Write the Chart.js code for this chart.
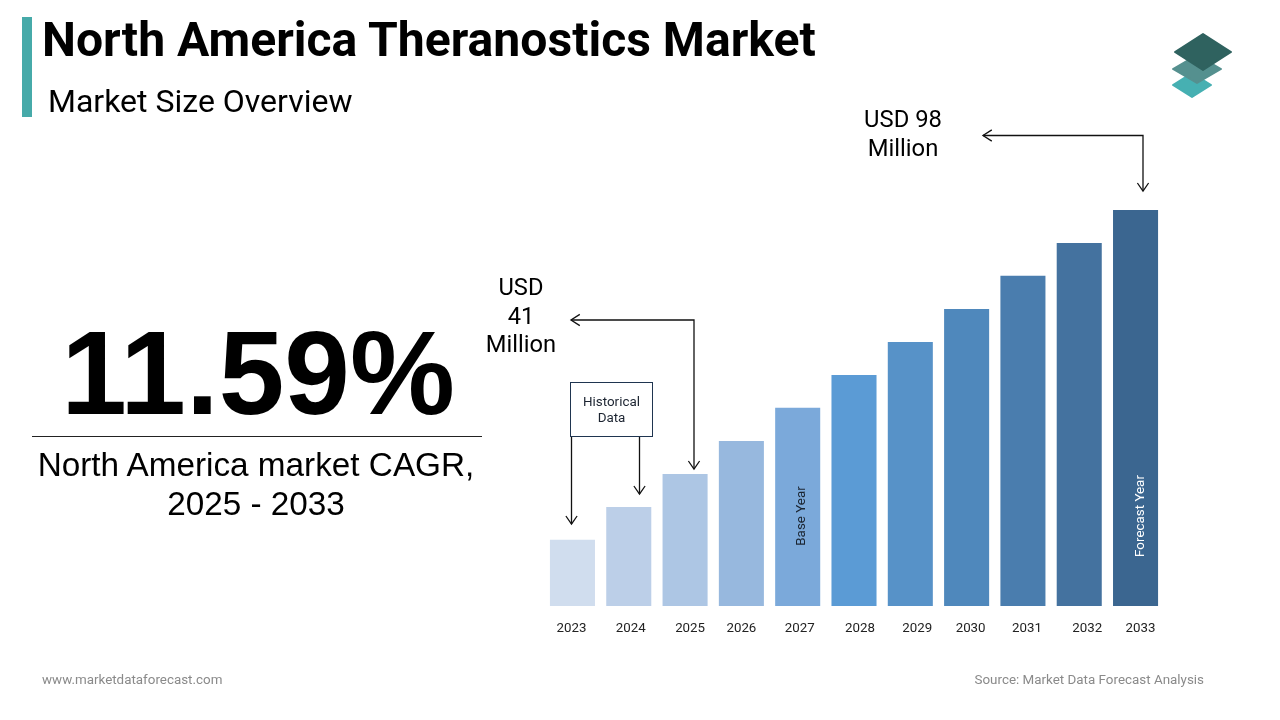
<!DOCTYPE html>
<html>
<head>
<meta charset="utf-8">
<title>North America Theranostics Market</title>
<script src="https://cdn.jsdelivr.net/npm/chart.js@4"></script>
<style>
  html, body { margin: 0; padding: 0; background: #fff; }
  #page { position: relative; width: 1280px; height: 720px; overflow: hidden; font-family: Roboto, sans-serif; color: #000; }
  #page canvas { position: absolute; left: 0; top: 0; }
  .t { position: absolute; white-space: nowrap; }
  .c { text-align: center; }
  #bar { position: absolute; left: 22px; top: 17px; width: 10px; height: 100px; background: #46aaa9; }
  #title { left: 42px; top: 12px; font-size: 48.1px; line-height: 56px; font-weight: 700; }
  #subtitle { left: 48px; top: 81px; font-size: 32px; line-height: 40px; }
  #cagr { left: 33px; width: 450px; top: 311px; font: 700 118px/124px "Liberation Sans", Arial, sans-serif; }
  #rule { position: absolute; left: 32px; top: 436px; width: 450px; height: 1px; background: #222; }
  #cagrText { left: 31px; width: 450px; top: 445px; font: 33.3px/39px "Liberation Sans", Arial, sans-serif; }
  #usd41 { left: 471px; width: 100px; top: 273px; font-size: 23.7px; line-height: 28.5px; }
  #usd98 { left: 853px; width: 100px; top: 104.5px; font-size: 23.8px; line-height: 29.5px; }
  #hist { position: absolute; left: 570px; top: 382px; width: 81px; height: 53px; border: 1px solid #1f3550; font-size: 13.4px; line-height: 16px; text-align: center; color: #1b2330; }
  #hist span { display: block; margin-top: 11px; }
  .foot { top: 672px; font-size: 13.4px; line-height: 16px; color: #8a8a8a; }
  #logo { position: absolute; left: 1165px; top: 28px; }
</style>
</head>
<body>
<div id="page">
  <canvas id="chart" width="1280" height="720"></canvas>
  <div id="bar"></div>
  <div class="t" id="title">North America Theranostics Market</div>
  <div class="t" id="subtitle">Market Size Overview</div>
  <svg id="logo" width="76" height="76" viewBox="0 0 76 76">
    <path d="M27 45 L46 57 L27 69 L8 57 Z" fill="#46b0b2" stroke="#46b0b2" stroke-linejoin="round" stroke-width="2"/>
    <path d="M32 27 L56 41 L32 55 L8 41 Z" fill="#55908f" stroke="#55908f" stroke-linejoin="round" stroke-width="2"/>
    <path d="M38 6 L66 24 L38 42 L10 24 Z" fill="#2f625f" stroke="#2f625f" stroke-linejoin="round" stroke-width="2"/>
  </svg>
  <div class="t c" id="cagr">11.59%</div>
  <div id="rule"></div>
  <div class="t c" id="cagrText">North America market CAGR,<br>2025 - 2033</div>
  <div class="t c" id="usd41">USD<br>41<br>Million</div>
  <div class="t c" id="usd98">USD 98<br>Million</div>
  <div id="hist"><span>Historical<br>Data</span></div>
  <div class="t foot" style="left:42px">www.marketdataforecast.com</div>
  <div class="t foot" style="right:76px">Source: Market Data Forecast Analysis</div>
</div>
<script>
const YEARS = ["2023", "2024", "2025", "2026", "2027", "2028", "2029", "2030", "2031", "2032", "2033"]
const MARKET_SIZE = [26.8, 33.9, 41, 48.1, 55.3, 62.4, 69.5, 76.6, 83.8, 90.9, 98]
const BAR_COLORS = ["#d0ddee", "#bccfe8", "#adc6e4", "#97b8de", "#7ba9da", "#5b9bd5", "#5792c8", "#4f88bc", "#4a7dae", "#44729f", "#3b6690"]
// The year labels in the source sit a little off the bar centres.
const YEAR_NUDGE = [-1, 2, 5, 0, 2, 6, 7, 4, 4, 8, 5]

const AXIS_MIN = 12.5
const INK = "#111"

function arrowHead(ctx, x, y, dir) {
  const size = 8
  ctx.beginPath()
  if (dir === "down") {
    ctx.moveTo(x - size * 0.7, y - size)
    ctx.lineTo(x, y)
    ctx.lineTo(x + size * 0.7, y - size)
  } else {
    ctx.moveTo(x + size * 1.1, y - size * 0.7)
    ctx.lineTo(x, y)
    ctx.lineTo(x + size * 1.1, y + size * 0.7)
  }
  ctx.stroke()
}

function polyline(ctx, pts) {
  ctx.beginPath()
  pts.forEach(([x, y], i) => (i ? ctx.lineTo(x, y) : ctx.moveTo(x, y)))
  ctx.stroke()
}

// Year labels, callout arrows and the vertical bar captions.
const overlayPlugin = {
  id: "overlay",
  afterDatasetsDraw(chart) {
    const { ctx, scales } = chart
    const bottom = scales.y.getPixelForValue(AXIS_MIN)
    const center = (year) => scales.x.getPixelForValue(YEARS.indexOf(year))

    ctx.save()
    ctx.font = "13.3px Roboto"
    ctx.fillStyle = "#222"
    ctx.textAlign = "center"
    ctx.textBaseline = "middle"
    YEARS.forEach((year, i) => {
      ctx.fillText(year, center(year) + YEAR_NUDGE[i], bottom + 22.5)
    })

    ctx.strokeStyle = INK
    ctx.lineWidth = 1.3
    const x25 = Math.round(center("2025")) + 9
    polyline(ctx, [[571, 320], [x25, 320], [x25, 469]])
    arrowHead(ctx, 571, 320, "left")
    arrowHead(ctx, x25, 469, "down")

    const x33 = Math.round(center("2033")) + 7
    polyline(ctx, [[983, 135.5], [x33, 135.5], [x33, 191]])
    arrowHead(ctx, 983, 135.5, "left")
    arrowHead(ctx, x33, 191, "down")

    polyline(ctx, [[571.5, 436], [571.5, 524]])
    arrowHead(ctx, 571.5, 524, "down")
    polyline(ctx, [[639.5, 436], [639.5, 494]])
    arrowHead(ctx, 639.5, 494, "down")

    const caption = (text, year, nudge, color) => {
      ctx.save()
      ctx.translate(center(year) + nudge, 516)
      ctx.rotate(-Math.PI / 2)
      ctx.font = "13.4px Roboto"
      ctx.fillStyle = color
      ctx.fillText(text, 0, 0)
      ctx.restore()
    }
    caption("Base Year", "2027", 4, "#1a2430")
    caption("Forecast Year", "2033", 5, "#fff")
    ctx.restore()
  }
}

new Chart(document.getElementById("chart").getContext("2d"), {
  type: "bar",
  plugins: [overlayPlugin],
  data: {
    labels: YEARS,
    datasets: [
      {
        data: MARKET_SIZE,
        backgroundColor: BAR_COLORS,
        borderWidth: 0,
        barPercentage: 0.8,
        categoryPercentage: 1
      }
    ]
  },
  options: {
    responsive: false,
    animation: false,
    devicePixelRatio: 1,
    layout: { padding: { left: 544.3, right: 116.3, top: 210, bottom: 114 } },
    plugins: { legend: false, tooltip: { enabled: false } },
    scales: {
      x: { display: false },
      y: { display: false, min: AXIS_MIN, max: 98 }
    }
  }
})
</script>
</body>
</html>
